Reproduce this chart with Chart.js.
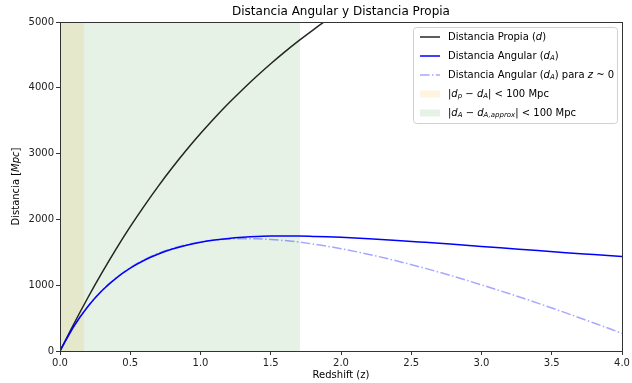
<!DOCTYPE html>
<html>
<head>
<meta charset="utf-8">
<script src="https://cdn.jsdelivr.net/npm/chart.js@4"></script>
<style>
  html, body { margin: 0; padding: 0; background: #fff; }
  #wrap { width: 632px; height: 383px; }
</style>
</head>
<body>
<div id="wrap"><canvas id="chart" width="632" height="383"></canvas></div>
<script>
// redshift grid
const zVals = [0, 0.1, 0.2, 0.3, 0.4, 0.5, 0.6, 0.7, 0.8, 0.9, 1.0, 1.1, 1.2, 1.3, 1.4, 1.5, 1.6, 1.7, 1.8, 1.9, 2.0,
  2.2, 2.4, 2.6, 2.8, 3.0, 3.2, 3.4, 3.6, 3.8, 4.0];

// distancia propia (Mpc)
const dPropia = [0, 418, 817, 1194, 1552, 1889, 2206, 2506, 2788, 3054, 3304, 3541, 3764, 3975, 4175, 4365, 4545, 4716, 4878, 5033, 5181,
  5457, 5710, 5943, 6158, 6358, 6543, 6716, 6878, 7030, 7173];

// distancia angular (Mpc)
const dAngular = [0, 380, 681, 919, 1108, 1259, 1379, 1474, 1549, 1607, 1652, 1686, 1711, 1728, 1740, 1746, 1748, 1747, 1742, 1736, 1727,
  1705, 1680, 1651, 1621, 1590, 1558, 1526, 1495, 1465, 1435];

// distancia angular, aproximacion z ~ 0
const dAngularAprox = [0, 381, 682, 922, 1113, 1267, 1389, 1485, 1559, 1616, 1657, 1685, 1701, 1707, 1705, 1695, 1678, 1655, 1626, 1593, 1555,
  1468, 1367, 1256, 1135, 1005, 869, 727, 579, 426, 269];

// franjas en z
const bandaOrange = [0, 0.17];
const bandaGreen = [0, 1.71];

const xTicks = [0, 0.5, 1.0, 1.5, 2.0, 2.5, 3.0, 3.5, 4.0];
const yTicks = [0, 1000, 2000, 3000, 4000, 5000];

const FONT = 'DejaVu Sans';

const legendLabels = [
  [['Distancia Propia (', 'n'], ['d', 'i'], [')', 'n']],
  [['Distancia Angular (', 'n'], ['d', 'i'], ['A', 's'], [')', 'n']],
  [['Distancia Angular (', 'n'], ['d', 'i'], ['A', 's'], [') para ', 'n'], ['z', 'i'], [' ~ 0', 'n']],
  [['|', 'n'], ['d', 'i'], ['p', 's'], [' \u2212 ', 'n'], ['d', 'i'], ['A', 's'], ['| < 100 Mpc', 'n']],
  [['|', 'n'], ['d', 'i'], ['A', 's'], [' \u2212 ', 'n'], ['d', 'i'], ['A,approx', 's'], ['| < 100 Mpc', 'n']]
];

function pts(ys) {
  return zVals.map((z, i) => ({ x: z, y: ys[i] }));
}

function partFont(style, size) {
  if (style === 'i') return 'italic ' + size + 'px ' + FONT;
  if (style === 's') return 'italic ' + Math.round(size * 0.7) + 'px ' + FONT;
  return size + 'px ' + FONT;
}

function richWidth(ctx, parts, size) {
  let w = 0;
  parts.forEach(p => { ctx.font = partFont(p[1], size); w += ctx.measureText(p[0]).width; });
  return w;
}

function drawRich(ctx, parts, x, y, size) {
  ctx.textBaseline = 'middle';
  ctx.textAlign = 'left';
  parts.forEach(p => {
    ctx.font = partFont(p[1], size);
    const dy = p[1] === 's' ? size * 0.25 : 0;
    ctx.fillText(p[0], x, y + dy);
    x += ctx.measureText(p[0]).width;
  });
}

const decoPlugin = {
  id: 'deco',
  afterDraw(chart) {
    const ctx = chart.ctx;
    const a = chart.chartArea;
    ctx.save();

    // marco
    ctx.strokeStyle = '#333';
    ctx.lineWidth = 1;
    ctx.strokeRect(Math.round(a.left) + 0.5, Math.round(a.top) + 0.5, Math.round(a.right - a.left), Math.round(a.bottom - a.top));

    // titulo
    ctx.fillStyle = '#000';
    ctx.font = '12px ' + FONT;
    ctx.textAlign = 'center';
    ctx.textBaseline = 'middle';
    ctx.fillText('Distancia Angular y Distancia Propia', (a.left + a.right) / 2, 12);

    // etiquetas de ejes
    ctx.font = '10px ' + FONT;
    ctx.fillText('Redshift (z)', (a.left + a.right) / 2, 375);
    const yl = [['Distancia [', 'n'], ['Mpc', 'i'], [']', 'n']];
    const w = richWidth(ctx, yl, 10);
    ctx.save();
    ctx.translate(16, (a.top + a.bottom) / 2);
    ctx.rotate(-Math.PI / 2);
    drawRich(ctx, yl, -w / 2, 0, 10);
    ctx.restore();

    // leyenda
    const lx = 413, ly = 27, lw = 204, lh = 96;
    ctx.fillStyle = 'rgba(255,255,255,0.8)';
    ctx.strokeStyle = '#d0d0d0';
    ctx.beginPath();
    ctx.roundRect(lx + 0.5, ly + 0.5, lw, lh, 3);
    ctx.fill();
    ctx.stroke();

    const rows = [37, 56, 75, 94, 113];
    const handles = [
      { type: 'line', color: 'rgba(0,0,0,0.85)', dash: [] },
      { type: 'line', color: '#0000ff', dash: [] },
      { type: 'line', color: 'rgba(0,0,255,0.35)', dash: [9.6, 2.4, 1.5, 2.4] },
      { type: 'patch', color: 'rgba(255,165,0,0.12)' },
      { type: 'patch', color: 'rgba(0,128,0,0.1)' }
    ];
    handles.forEach((h, i) => {
      const y = rows[i];
      if (h.type === 'line') {
        ctx.strokeStyle = h.color;
        ctx.lineWidth = 1.5;
        ctx.setLineDash(h.dash);
        ctx.beginPath();
        ctx.moveTo(420, y);
        ctx.lineTo(440, y);
        ctx.stroke();
        ctx.setLineDash([]);
      } else {
        ctx.fillStyle = h.color;
        ctx.fillRect(420, y - 3.5, 20, 7);
      }
      ctx.fillStyle = '#000';
      drawRich(ctx, legendLabels[i], 448, y, 10);
    });

    ctx.restore();
  }
};

new Chart(document.getElementById('chart'), {
  type: 'line',
  data: {
    datasets: [
      {
        data: pts(dPropia),
        borderColor: 'rgba(0,0,0,0.85)',
        borderWidth: 1.5,
        pointRadius: 0,
        cubicInterpolationMode: 'monotone',
        fill: false,
        order: 2
      },
      {
        data: pts(dAngular),
        borderColor: '#0000ff',
        borderWidth: 1.5,
        pointRadius: 0,
        cubicInterpolationMode: 'monotone',
        fill: false,
        order: 0
      },
      {
        data: pts(dAngularAprox),
        borderColor: 'rgba(0,0,255,0.35)',
        borderWidth: 1.5,
        borderDash: [9.6, 2.4, 1.5, 2.4],
        pointRadius: 0,
        cubicInterpolationMode: 'monotone',
        fill: false,
        order: 1
      },
      {
        data: bandaOrange.map(z => ({ x: z, y: 5000 })),
        borderWidth: 0,
        borderColor: 'rgba(0,0,0,0)',
        backgroundColor: 'rgba(255,165,0,0.12)',
        pointRadius: 0,
        fill: 'origin',
        order: 4
      },
      {
        data: bandaGreen.map(z => ({ x: z, y: 5000 })),
        borderWidth: 0,
        borderColor: 'rgba(0,0,0,0)',
        backgroundColor: 'rgba(0,128,0,0.1)',
        pointRadius: 0,
        fill: 'origin',
        order: 3
      }
    ]
  },
  options: {
    responsive: false,
    animation: false,
    events: [],
    layout: { padding: { left: 0, right: 10, top: 22, bottom: 0 } },
    plugins: {
      legend: { display: false },
      tooltip: { enabled: false },
      title: { display: false }
    },
    scales: {
      x: {
        type: 'linear',
        min: 0,
        max: 4,
        afterBuildTicks: s => { s.ticks = xTicks.map(v => ({ value: v })); },
        afterFit: s => { s.height = 32; },
        grid: { display: true, drawOnChartArea: false, drawTicks: true, tickLength: 4, color: '#333' },
        border: { display: true, color: '#333', width: 1 },
        ticks: { padding: 2, color: '#222', font: { family: FONT, size: 10 }, maxRotation: 0, callback: v => v.toFixed(1) }
      },
      y: {
        type: 'linear',
        min: 0,
        max: 5000,
        afterBuildTicks: s => { s.ticks = yTicks.map(v => ({ value: v })); },
        afterFit: s => { s.width = 60; },
        grid: { display: true, drawOnChartArea: false, drawTicks: true, tickLength: 4, color: '#333' },
        border: { display: true, color: '#333', width: 1 },
        ticks: { padding: 2, color: '#222', font: { family: FONT, size: 10 }, callback: v => String(v) }
      }
    }
  },
  plugins: [decoPlugin]
});
</script>
</body>
</html>
